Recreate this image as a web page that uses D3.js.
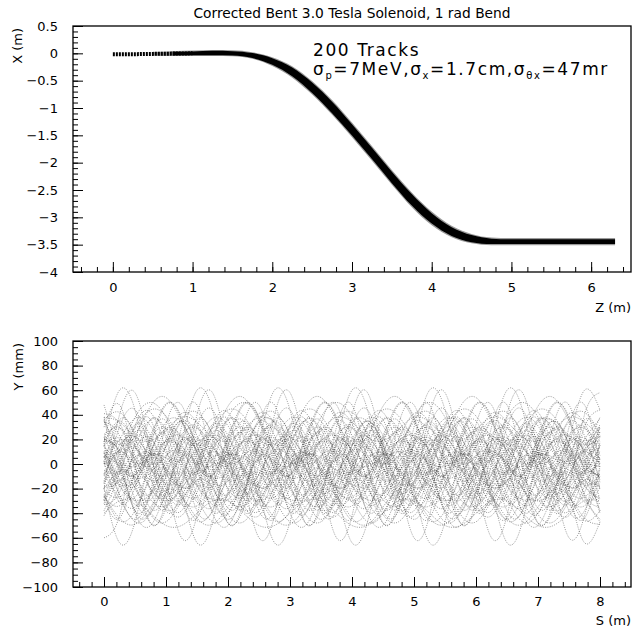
<!DOCTYPE html>
<html>
<head>
<meta charset="utf-8">
<script src="https://cdn.jsdelivr.net/npm/d3@7"></script>
<style>
  body { margin: 0; background: #fff; }
  svg text { font-family: "DejaVu Sans", sans-serif; fill: #000; }
  .tick text { font-size: 13px; font-family: "DejaVu Sans", sans-serif; }
  .tick line { stroke: #000; stroke-width: 1; }
</style>
</head>
<body>
<div id="chart"></div>
<script>
const titleText = 'Corrected Bent 3.0 Tesla Solenoid, 1 rad Bend';

// top panel: X(z) of the track bundle (centre line, half thickness of bundle and of its dark core, metres)
const topZ = [0, 0.25, 0.5, 0.75, 1.0, 1.25, 1.5, 1.75, 2.0, 2.25, 2.5, 2.75, 3.0, 3.25, 3.5, 3.75, 4.0, 4.25, 4.5, 4.75, 5.0, 5.5, 6.0, 6.3];
const topX = [-0.015, -0.015, -0.01, -0.005, 0.0, 0.005, 0.0, -0.04, -0.15, -0.34, -0.63, -0.99, -1.4, -1.83, -2.27, -2.68, -3.02, -3.26, -3.39, -3.44, -3.445, -3.445, -3.445, -3.445];
const topHalf = [0.035, 0.035, 0.035, 0.045, 0.05, 0.055, 0.055, 0.06, 0.08, 0.105, 0.125, 0.135, 0.135, 0.135, 0.135, 0.135, 0.125, 0.105, 0.085, 0.07, 0.065, 0.065, 0.065, 0.065];
const topCore = [0.03, 0.03, 0.03, 0.035, 0.035, 0.04, 0.04, 0.045, 0.06, 0.08, 0.095, 0.105, 0.105, 0.105, 0.105, 0.105, 0.095, 0.08, 0.065, 0.05, 0.045, 0.045, 0.045, 0.045];
const topXTicks = [0, 1, 2, 3, 4, 5, 6];
const topYTicks = [0.5, 0, -0.5, -1, -1.5, -2, -2.5, -3, -3.5, -4];

// bottom panel: Y(s) in mm, sampled every 0.25 m
const bottomS = [0, 0.25, 0.5, 0.75, 1, 1.25, 1.5, 1.75, 2, 2.25, 2.5, 2.75, 3, 3.25, 3.5, 3.75, 4, 4.25, 4.5, 4.75, 5, 5.25, 5.5, 5.75, 6, 6.25, 6.5, 6.75, 7, 7.25, 7.5, 7.75, 8];
const bottomTracks = [
  [18,60,44,-8,-24,18,60,44,-8,-24,18,60,44,-8,-24,18,60,44,-8,-24,18,60,44,-8,-24,18,60,44,-8,-24,18,60,44],
  [-20,-64,-47,7,24,-20,-64,-47,7,24,-20,-64,-47,7,24,-20,-64,-47,7,24,-20,-64,-47,7,24,-20,-64,-47,7,24,-20,-64,-47],
  [-60,-42,18,36,-12,-60,-42,18,36,-12,-60,-42,18,36,-12,-60,-42,18,36,-12,-60,-42,18,36,-12,-60,-42,18,36,-12,-60,-42,18],
  [-20,40,58,10,-38,-20,40,58,10,-38,-20,40,58,10,-38,-20,40,58,10,-38,-20,40,58,10,-38,-20,40,58,10,-38,-20,40,58],
  [34,23,-13,-24,5,34,23,-13,-24,5,34,23,-13,-24,5,34,23,-13,-24,5,34,23,-13,-24,5,34,23,-13,-24,5,34,23,-13],
  [9,-25,-35,-8,19,9,-25,-35,-8,19,9,-25,-35,-8,19,9,-25,-35,-8,19,9,-25,-35,-8,19,9,-25,-35,-8,19,9,-25,-35],
  [2,-6,15,36,28,2,-6,15,36,28,2,-6,15,36,28,2,-6,15,36,28,2,-6,15,36,28,2,-6,15,36,28,2,-6,15],
  [-42,-18,6,-3,-33,-42,-18,6,-3,-33,-42,-18,6,-3,-33,-42,-18,6,-3,-33,-42,-18,6,-3,-33,-42,-18,6,-3,-33,-42,-18,6],
  [36,42,25,8,14,36,42,25,8,14,36,42,25,8,14,36,42,25,8,14,36,42,25,8,14,36,42,25,8,14,36,42,25],
  [-9,-28,-47,-40,-16,-9,-28,-47,-40,-16,-9,-28,-47,-40,-16,-9,-28,-47,-40,-16,-9,-28,-47,-40,-16,-9,-28,-47,-40,-16,-9,-28,-47],
  [0,36,22,-22,-36,0,36,22,-22,-36,0,36,22,-22,-36,0,36,22,-22,-36,0,36,22,-22,-36,0,36,22,-22,-36,0,36,22],
  [2,-31,-19,23,35,2,-31,-19,23,35,2,-31,-19,23,35,2,-31,-19,23,35,2,-31,-19,23,35,2,-31,-19,23,35,2,-31,-19],
  [-19,-14,4,9,-5,-19,-14,4,9,-5,-19,-14,4,9,-5,-19,-14,4,9,-5,-19,-14,4,9,-5,-19,-14,4,9,-5,-19,-14,4],
  [-16,8,32,23,-7,-16,8,32,23,-7,-16,8,32,23,-7,-16,8,32,23,-7,-16,8,32,23,-7,-16,8,32,23,-7,-16,8,32],
  [20,9,-29,-40,-10,20,9,-29,-40,-10,20,9,-29,-40,-10,20,9,-29,-40,-10,20,9,-29,-40,-10,20,9,-29,-40,-10,20,9,-29],
  [21,16,30,44,39,21,16,30,44,39,21,16,30,44,39,21,16,30,44,39,21,16,30,44,39,21,16,30,44,39,21,16,30],
  [-30,-13,-19,-41,-47,-30,-13,-19,-41,-47,-30,-13,-19,-41,-47,-30,-13,-19,-41,-47,-30,-13,-19,-41,-47,-30,-13,-19,-41,-47,-30,-13,-19],
  [23,12,1,5,19,23,12,1,5,19,23,12,1,5,19,23,12,1,5,19,23,12,1,5,19,23,12,1,5,19,23,12,1],
  [-15,11,19,-2,-23,-15,11,19,-2,-23,-15,11,19,-2,-23,-15,11,19,-2,-23,-15,11,19,-2,-23,-15,11,19,-2,-23,-15,11,19],
  [38,2,-9,20,49,38,2,-9,20,49,38,2,-9,20,49,38,2,-9,20,49,38,2,-9,20,49,38,2,-9,20,49,38,2,-9],
  [6,18,-15,-48,-36,6,18,-15,-48,-36,6,18,-15,-48,-36,6,18,-15,-48,-36,6,18,-15,-48,-36,6,18,-15,-48,-36,6,18,-15],
  [-5,-8,0,8,5,-5,-8,0,8,5,-5,-8,0,8,5,-5,-8,0,8,5,-5,-8,0,8,5,-5,-8,0,8,5,-5,-8,0],
  [6,-4,-40,-50,-22,6,-4,-40,-50,-22,6,-4,-40,-50,-22,6,-4,-40,-50,-22,6,-4,-40,-50,-22,6,-4,-40,-50,-22,6,-4,-40],
  [35,16,23,47,54,35,16,23,47,54,35,16,23,47,54,35,16,23,47,54,35,16,23,47,54,35,16,23,47,54,35,16,23],
  [-26,-44,-49,-35,-21,-26,-44,-49,-35,-21,-26,-44,-49,-35,-21,-26,-44,-49,-35,-21,-26,-44,-49,-35,-21,-26,-44,-49,-35,-21,-26,-44,-49],
  [48,5,-38,-22,32,48,5,-38,-22,32,48,5,-38,-22,32,48,5,-38,-22,32,48,5,-38,-22,32,48,5,-38,-22,32,48,5,-38],
  [15,-25,-45,-25,15,35,15,-25,-45,-25,15,35,15,-25,-45,-25,15,35,15,-25,-45,-25,15,35,15,-25,-45,-25,15,35,15,-25,-45],
  [10,-14,-14,10,34,34,10,-14,-14,10,34,34,10,-14,-14,10,34,34,10,-14,-14,10,34,34,10,-14,-14,10,34,34,10,-14,-14],
  [0,10,0,-20,-30,-20,0,10,0,-20,-30,-20,0,10,0,-20,-30,-20,0,10,0,-20,-30,-20,0,10,0,-20,-30,-20,0,10,0],
  [0,12,38,50,38,12,0,12,38,50,38,12,0,12,38,50,38,12,0,12,38,50,38,12,0,12,38,50,38,12,0,12,38],
  [-2,-2,-38,-38,-2,-2,-38,-38,-2,-2,-38,-38,-2,-2,-38,-38,-2,-2,-38,-38,-2,-2,-38,-38,-2,-2,-38,-38,-2,-2,-38,-38,-2],
  [15,35,15,-5,15,35,15,-5,15,35,15,-5,15,35,15,-5,15,35,15,-5,15,35,15,-5,15,35,15,-5,15,35,15,-5,15],
  [17,-17,-27,0,27,17,-17,-27,0,27,17,-17,-27,0,27,17,-17,-27,0,27,17,-17,-27,0,27,17,-17,-27,0,27,17,-17,-27],
  [-8,11,4,-20,-27,-8,11,4,-20,-27,-8,11,4,-20,-27,-8,11,4,-20,-27,-8,11,4,-20,-27,-8,11,4,-20,-27,-8,11,4],
  [-18,-7,31,42,12,-18,-7,31,42,12,-18,-7,31,42,12,-18,-7,31,42,12,-18,-7,31,42,12,-18,-7,31,42,12,-18,-7,31],
  [-27,3,13,-12,-37,-27,3,13,-12,-37,-27,3,13,-12,-37,-27,3,13,-12,-37,-27,3,13,-12,-37,-27,3,13,-12,-37,-27,3,13],
  [3,20,37,31,9,3,20,37,31,9,3,20,37,31,9,3,20,37,31,9,3,20,37,31,9,3,20,37,31,9,3,20,37],
  [-25,-46,-38,-12,-4,-25,-46,-38,-12,-4,-25,-46,-38,-12,-4,-25,-46,-38,-12,-4,-25,-46,-38,-12,-4,-25,-46,-38,-12,-4,-25,-46,-38],
  [15,21,4,-13,-7,15,21,4,-13,-7,15,21,4,-13,-7,15,21,4,-13,-7,15,21,4,-13,-7,15,21,4,-13,-7,15,21,4],
  [-29,-44,-4,36,21,-29,-44,-4,36,21,-29,-44,-4,36,21,-29,-44,-4,36,21,-29,-44,-4,36,21,-29,-44,-4,36,21,-29,-44,-4],
  [38,34,22,19,28,38,34,22,19,28,38,34,22,19,28,38,34,22,19,28,38,34,22,19,28,38,34,22,19,28,38,34,22],
  [-7,-18,-29,-25,-11,-7,-18,-29,-25,-11,-7,-18,-29,-25,-11,-7,-18,-29,-25,-11,-7,-18,-29,-25,-11,-7,-18,-29,-25,-11,-7,-18,-29],
  [-14,30,44,8,-28,-14,30,44,8,-28,-14,30,44,8,-28,-14,30,44,8,-28,-14,30,44,8,-28,-14,30,44,8,-28,-14,30,44],
  [-32,-3,26,15,-21,-32,-3,26,15,-21,-32,-3,26,15,-21,-32,-3,26,15,-21,-32,-3,26,15,-21,-32,-3,26,15,-21,-32,-3,26],
  [36,-6,-18,15,48,36,-6,-18,15,48,36,-6,-18,15,48,36,-6,-18,15,48,36,-6,-18,15,48,36,-6,-18,15,48,36,-6,-18],
  [-27,-34,-15,4,-3,-27,-34,-15,4,-3,-27,-34,-15,4,-3,-27,-34,-15,4,-3,-27,-34,-15,4,-3,-27,-34,-15,4,-3,-27,-34,-15],
  [30,48,0,-48,-30,30,48,0,-48,-30,30,48,0,-48,-30,30,48,0,-48,-30,30,48,0,-48,-30,30,48,0,-48,-30,30,48,0],
  [-40,-30,-30,-40,-50,-50,-40,-30,-30,-40,-50,-50,-40,-30,-30,-40,-50,-50,-40,-30,-30,-40,-50,-50,-40,-30,-30,-40,-50,-50,-40,-30,-30],
  [5,19,14,-4,-9,5,19,14,-4,-9,5,19,14,-4,-9,5,19,14,-4,-9,5,19,14,-4,-9,5,19,14,-4,-9,5,19,14],
  [19,10,-20,-29,-5,19,10,-20,-29,-5,19,10,-20,-29,-5,19,10,-20,-29,-5,19,10,-20,-29,-5,19,10,-20,-29,-5,19,10,-20],
  [22,-2,-9,10,29,22,-2,-9,10,29,22,-2,-9,10,29,22,-2,-9,10,29,22,-2,-9,10,29,22,-2,-9,10,29,22,-2,-9],
  [-21,-27,-10,7,1,-21,-27,-10,7,1,-21,-27,-10,7,1,-21,-27,-10,7,1,-21,-27,-10,7,1,-21,-27,-10,7,1,-21,-27,-10],
  [-29,0,29,18,-18,-29,0,29,18,-18,-29,0,29,18,-18,-29,0,29,18,-18,-29,0,29,18,-18,-29,0,29,18,-18,-29,0,29],
  [24,29,15,1,6,24,29,15,1,6,24,29,15,1,6,24,29,15,1,6,24,29,15,1,6,24,29,15,1,6,24,29,15],
  [9,-12,-33,-25,1,9,-12,-33,-25,1,9,-12,-33,-25,1,9,-12,-33,-25,1,9,-12,-33,-25,1,9,-12,-33,-25,1,9,-12,-33],
  [6,-17,-8,20,29,6,-17,-8,20,29,6,-17,-8,20,29,6,-17,-8,20,29,6,-17,-8,20,29,6,-17,-8,20,29,6,-17,-8],
  [-33,-23,11,21,-6,-33,-23,11,21,-6,-33,-23,11,21,-6,-33,-23,11,21,-6,-33,-23,11,21,-6,-33,-23,11,21,-6,-33,-23,11],
  [-9,15,22,3,-16,-9,15,22,3,-16,-9,15,22,3,-16,-9,15,22,3,-16,-9,15,22,3,-16,-9,15,22,3,-16,-9,15,22],
  [-20,-6,-11,-29,-34,-20,-6,-11,-29,-34,-20,-6,-11,-29,-34,-20,-6,-11,-29,-34,-20,-6,-11,-29,-34,-20,-6,-11,-29,-34,-20,-6,-11],
  [41,33,7,-1,20,41,33,7,-1,20,41,33,7,-1,20,41,33,7,-1,20,41,33,7,-1,20,41,33,7,-1,20,41,33,7],
  [11,0,-11,-7,7,11,0,-11,-7,7,11,0,-11,-7,7,11,0,-11,-7,7,11,0,-11,-7,7,11,0,-11,-7,7,11,0,-11],
  [18,30,-3,-36,-24,18,30,-3,-36,-24,18,30,-3,-36,-24,18,30,-3,-36,-24,18,30,-3,-36,-24,18,30,-3,-36,-24,18,30,-3],
  [14,2,-2,8,18,14,2,-2,8,18,14,2,-2,8,18,14,2,-2,8,18,14,2,-2,8,18,14,2,-2,8,18,14,2,-2],
  [-38,-8,22,11,-27,-38,-8,22,11,-27,-38,-8,22,11,-27,-38,-8,22,11,-27,-38,-8,22,11,-27,-38,-8,22,11,-27,-38,-8,22]
];
const bottomXTicks = [0, 1, 2, 3, 4, 5, 6, 7, 8];
const bottomYTicks = [100, 80, 60, 40, 20, 0, -20, -40, -60, -80, -100];

const width = 634;
const height = 631;
const frameLeft = 73, frameRight = 631;
const topArea = { top: 26, bottom: 272 };
const botArea = { top: 341, bottom: 587 };

const svg = d3.select('#chart').append('svg')
  .attr('width', width)
  .attr('height', height);

const fmt = d3.format('');

// draws inward major + minor ticks on left and bottom, plus the frame box
function drawAxes(g, x, y, xTicks, yTicks, xMinorCount, yMinorCount, padX, padY) {
  const bottom = y.range()[0];
  g.append('g')
    .attr('transform', `translate(0,${bottom})`)
    .call(d3.axisBottom(x).tickValues(x.ticks(xMinorCount)).tickSize(-5).tickFormat(''))
    .call((a) => a.select('.domain').remove());
  g.append('g')
    .attr('transform', `translate(0,${bottom})`)
    .call(d3.axisBottom(x).tickValues(xTicks).tickSize(-10).tickPadding(padX).tickFormat(fmt))
    .call((a) => a.select('.domain').remove());
  g.append('g')
    .attr('transform', `translate(${frameLeft},0)`)
    .call(d3.axisLeft(y).tickValues(y.ticks(yMinorCount)).tickSize(-5).tickFormat(''))
    .call((a) => a.select('.domain').remove());
  g.append('g')
    .attr('transform', `translate(${frameLeft},0)`)
    .call(d3.axisLeft(y).tickValues(yTicks).tickSize(-10).tickPadding(padY).tickFormat(fmt))
    .call((a) => a.select('.domain').remove());
  g.append('rect')
    .attr('x', frameLeft)
    .attr('y', y.range()[1])
    .attr('width', frameRight - frameLeft)
    .attr('height', bottom - y.range()[1])
    .attr('fill', 'none')
    .attr('stroke', '#000')
    .attr('stroke-width', 1.3);
}

// title
svg.append('text')
  .attr('x', (frameLeft + frameRight) / 2)
  .attr('y', 18)
  .attr('text-anchor', 'middle')
  .style('font-size', '13.8px')
  .text(titleText);

// ---------- top panel ----------
const xTop = d3.scaleLinear().domain([-0.5, 6.5]).range([frameLeft, frameRight]);
const yTop = d3.scaleLinear().domain([-4, 0.5]).range([topArea.bottom, topArea.top]);

const topRows = topZ.map((z, i) => ({ z: z, x: topX[i], h: topHalf[i], c: topCore[i] }));

const gTop = svg.append('g');

// grey fringe of the bundle
gTop.append('path')
  .datum(topRows.filter((d) => d.z >= 0.5))
  .attr('fill', '#9a9a9a')
  .attr('d', d3.area()
    .x((d) => xTop(d.z))
    .y0((d) => yTop(d.x - d.h))
    .y1((d) => yTop(d.x + d.h))
    .curve(d3.curveMonotoneX));

// dark core of the bundle
gTop.append('path')
  .datum(topRows.filter((d) => d.z >= 0.75))
  .attr('fill', '#000')
  .attr('d', d3.area()
    .x((d) => xTop(d.z))
    .y0((d) => yTop(d.x - d.c))
    .y1((d) => yTop(d.x + d.c))
    .curve(d3.curveMonotoneX));

// hatched start of the bundle (markers)
gTop.append('path')
  .datum(topRows.filter((d) => d.z <= 1.0))
  .attr('fill', 'none')
  .attr('stroke', '#000')
  .attr('stroke-width', 4)
  .attr('stroke-dasharray', '2 1')
  .attr('d', d3.line()
    .x((d) => xTop(d.z))
    .y((d) => yTop(d.x))
    .curve(d3.curveMonotoneX));

drawAxes(gTop, xTop, yTop, topXTicks, topYTicks, 35, 45, 11, 15);

gTop.append('text')
  .attr('x', frameRight)
  .attr('y', 312)
  .attr('text-anchor', 'end')
  .style('font-size', '13px')
  .text('Z (m)');

gTop.append('text')
  .attr('transform', `translate(22,${topArea.top + 2}) rotate(-90)`)
  .attr('text-anchor', 'end')
  .style('font-size', '13px')
  .text('X (m)');

// annotation
const note = gTop.append('g').style('font-size', '17px').style('letter-spacing', '1.6px');
note.append('text').attr('x', 313).attr('y', 56).text('200 Tracks');
const line2 = note.append('text').attr('x', 313).attr('y', 75);
line2.append('tspan').text('σ');
line2.append('tspan').attr('dy', 4).style('font-size', '10px').text('p');
line2.append('tspan').attr('dy', -4).text('=7MeV,σ');
line2.append('tspan').attr('dy', 4).style('font-size', '10px').text('x');
line2.append('tspan').attr('dy', -4).text('=1.7cm,σ');
line2.append('tspan').attr('dy', 4).style('font-size', '10px').text('θx');
line2.append('tspan').attr('dy', -4).text('=47mr');

// ---------- bottom panel ----------
const xBot = d3.scaleLinear().domain([-0.5, 8.5]).range([frameLeft, frameRight]);
const yBot = d3.scaleLinear().domain([-100, 100]).range([botArea.bottom, botArea.top]);

const gBot = svg.append('g');

const trackLine = d3.line()
  .x((d, i) => xBot(bottomS[i]))
  .y((d) => yBot(d))
  .curve(d3.curveNatural);

gBot.append('g')
  .selectAll('path')
  .data(bottomTracks)
  .join('path')
  .attr('fill', 'none')
  .attr('stroke', '#333')
  .attr('stroke-opacity', 0.55)
  .attr('stroke-width', 0.9)
  .attr('stroke-dasharray', '1 1.3')
  .attr('d', trackLine);

drawAxes(gBot, xBot, yBot, bottomXTicks, bottomYTicks, 45, 40, 10, 15);

gBot.append('text')
  .attr('x', frameRight)
  .attr('y', 625)
  .attr('text-anchor', 'end')
  .style('font-size', '13px')
  .text('S (m)');

gBot.append('text')
  .attr('transform', `translate(23,${botArea.top + 2}) rotate(-90)`)
  .attr('text-anchor', 'end')
  .style('font-size', '13px')
  .text('Y (mm)');
</script>
</body>
</html>
